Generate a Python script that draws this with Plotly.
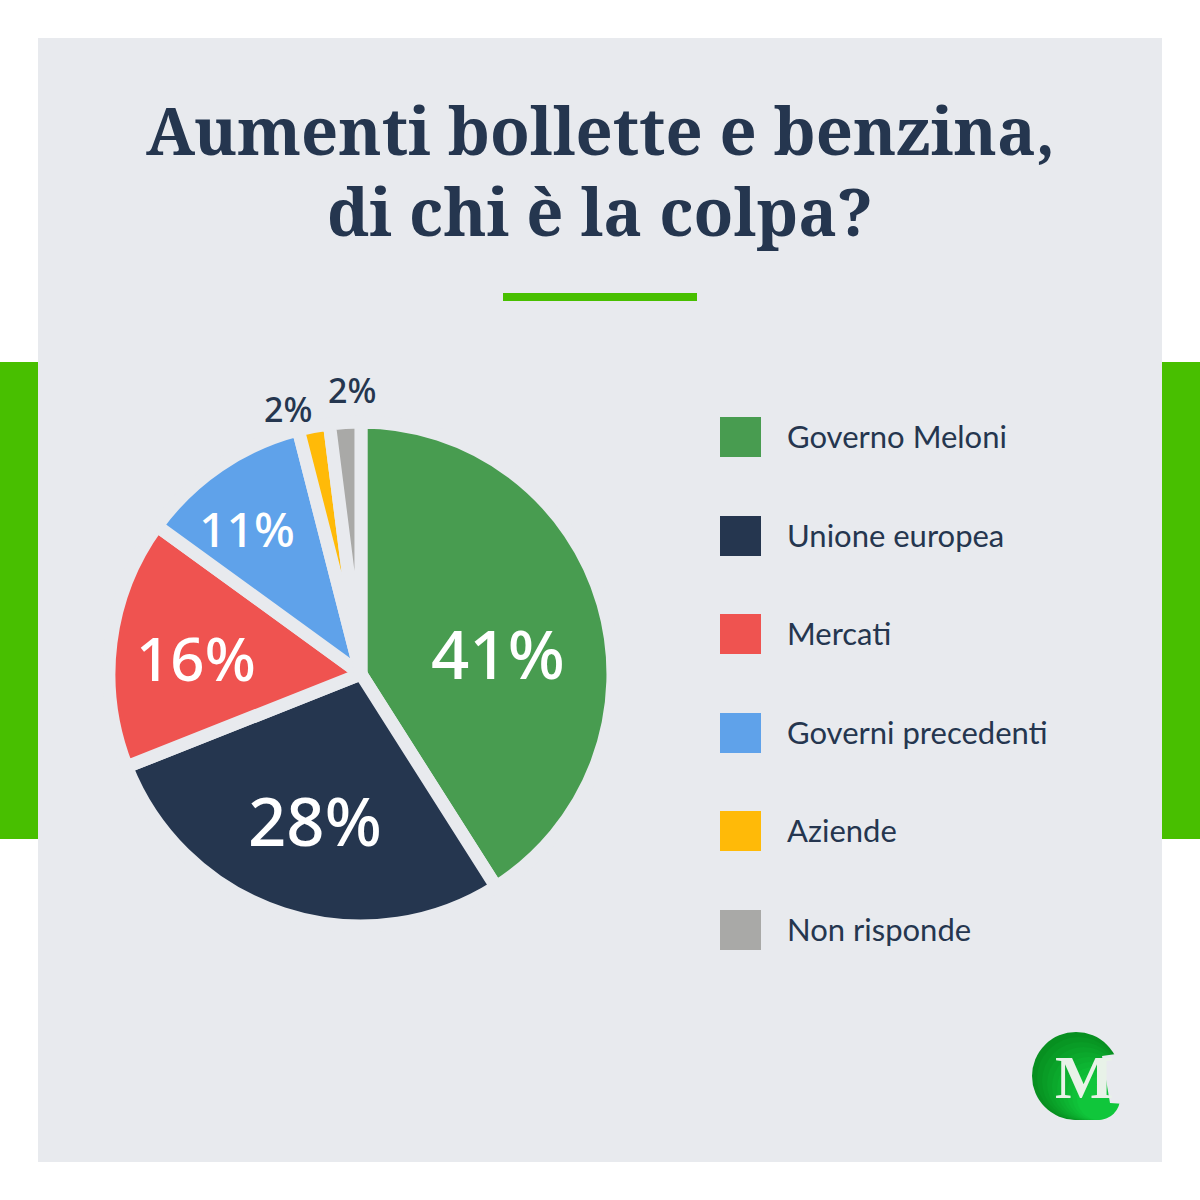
import plotly.graph_objects as go

labels = ["Governo Meloni", "Unione europea", "Mercati", "Governi precedenti", "Aziende", "Non risponde"]
values = [41, 28, 16, 11, 2, 2]
colors = ["#489c50", "#25364f", "#ef5350", "#5fa2ea", "#ffba08", "#a9a9a7"]
legend_y = [436, 535, 633, 732, 830, 929]

# where the percent labels sit on the page
label_x = [498, 315, 196, 247, 288, 352]
label_y = [653, 820, 658, 528, 409, 390]
label_sizes = [67, 67, 60, 48, 34, 34]
label_colors = ["white", "white", "white", "white", "#25364f", "#25364f"]

bg = "#e8eaee"
dark = "#25364f"
green = "#48bf00"

fig = go.Figure()

fig.add_trace(go.Pie(
    labels=labels,
    values=values,
    sort=False,
    direction="clockwise",
    rotation=0,
    marker=dict(colors=colors, line=dict(color=bg, width=13)),
    textinfo="none",
    showlegend=False,
    domain=dict(x=[0.0908, 0.5108], y=[0.2283, 0.6483]),
))

fig.update_layout(
    width=1200, height=1200,
    margin=dict(l=0, r=0, t=0, b=0),
    paper_bgcolor="white",
    plot_bgcolor="white",
    xaxis=dict(visible=False, range=[0, 1200], fixedrange=True),
    yaxis=dict(visible=False, range=[1200, 0], fixedrange=True),
)

# panel, side bars, underline
shapes = [
    dict(type="rect", x0=0, x1=38, y0=362, y1=839, fillcolor=green),
    dict(type="rect", x0=1162, x1=1200, y0=362, y1=839, fillcolor=green),
    dict(type="rect", x0=38, x1=1162, y0=38, y1=1162, fillcolor=bg),
    dict(type="rect", x0=503, x1=697, y0=293, y1=301, fillcolor=green),
]
annotations = [
    dict(x=600, y=130, text="<b>Aumenti bollette e benzina,</b>", font=dict(family="Noto Serif, DejaVu Serif", size=65, color=dark)),
    dict(x=600, y=211, text="<b>di chi è la colpa?</b>", font=dict(family="Noto Serif, DejaVu Serif", size=65, color=dark)),
]

# percent labels
for v, x, y, size, col in zip(values, label_x, label_y, label_sizes, label_colors):
    annotations.append(dict(x=x, y=y, text=f"{v}%", font=dict(family="Noto Sans", size=size, color=col, weight=500)))

# legend
for name, col, y in zip(labels, colors, legend_y):
    shapes.append(dict(type="rect", x0=720, x1=761, y0=y - 19, y1=y + 21, fillcolor=col))
    annotations.append(dict(x=785, y=y, text=name, xanchor="left", font=dict(family="Lato", size=31, color=dark)))

# logo: gradient faked with nested circles, then the notch for the M
logo_greens = ["#079020", "#089623", "#099c26", "#0aa229", "#0ba82c", "#0cae2f", "#0db432", "#0eba35", "#0fc038", "#10c63b"]
for i, col in enumerate(logo_greens):
    shapes.append(dict(type="circle", x0=1032 + i * 5, x1=1120, y0=1032 + i * 5, y1=1120, fillcolor=col))
shapes.append(dict(type="path", path="M 1102 1056 L 1116 1054 L 1125 1054 L 1125 1104 L 1110 1103 Z", fillcolor=bg))
annotations.append(dict(x=1084, y=1077, text="<b>M</b>", font=dict(family="Liberation Serif", size=62, color="#e8f2e8")))

for s in shapes:
    s["line_width"] = 0
    s["layer"] = "below"
for a in annotations:
    a["showarrow"] = False
    a["xref"] = "x"
    a["yref"] = "y"

fig.update_layout(shapes=shapes, annotations=annotations)

fig.write_html("out.html", config=dict(displayModeBar=False), post_script="document.body.style.margin = '0';")
